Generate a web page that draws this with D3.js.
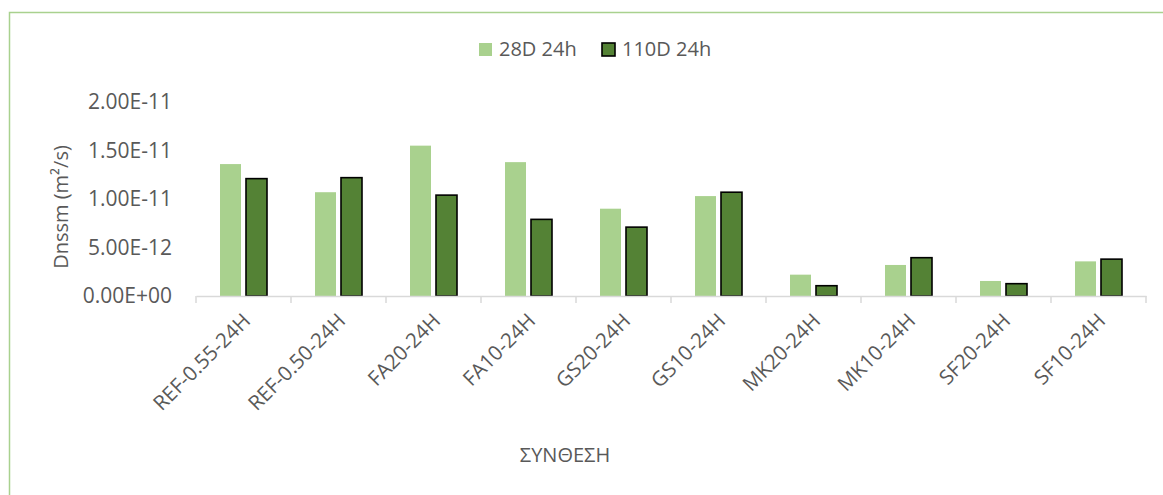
<!DOCTYPE html>
<html>
<head>
<meta charset="utf-8">
<script src="https://cdn.jsdelivr.net/npm/d3@7"></script>
<style>
  html, body { margin: 0; padding: 0; background: #fff; }
  text { font-family: "Open Sans", sans-serif; fill: #595959; }
</style>
</head>
<body>
<div id="chart"></div>
<script>
// categories (ΣΥΝΘΕΣΗ) and the two series
const categories = ['REF-0.55-24H', 'REF-0.50-24H', 'FA20-24H', 'FA10-24H', 'GS20-24H',
                    'GS10-24H', 'MK20-24H', 'MK10-24H', 'SF20-24H', 'SF10-24H'];
const series28 = [1.36e-11, 1.07e-11, 1.55e-11, 1.38e-11, 0.90e-11,
                  1.03e-11, 0.22e-11, 0.32e-11, 0.155e-11, 0.357e-11];
const series110 = [1.21e-11, 1.22e-11, 1.04e-11, 0.79e-11, 0.71e-11,
                   1.07e-11, 0.106e-11, 0.395e-11, 0.127e-11, 0.38e-11];
const seriesNames = ['28D 24h', '110D 24h'];
const yTicks = [0, 5e-12, 1e-11, 1.5e-11, 2e-11];

const width = 1163, height = 495;
const colors = ['#A9D18E', '#548235'];

const svg = d3.select('#chart').append('svg')
    .attr('width', width)
    .attr('height', height);

// chart frame
svg.append('rect')
    .attr('x', 9.5).attr('y', 12.5)
    .attr('width', 1170).attr('height', 500)
    .attr('fill', 'none')
    .attr('stroke', '#A9D18E')
    .attr('stroke-width', 1.5);

const x = d3.scaleBand().domain(categories).range([196, 1146]);
const y = d3.scaleLinear().domain([0, 2e-11]).range([296, 102]);

function sciFormat(v) {
    const [m, e] = d3.format('.2e')(v).split('e');
    const sign = e[0] === '-' ? '-' : '+';
    const digits = e.replace(/[+-]/, '').padStart(2, '0');
    return `${m}E${sign}${digits}`;
}

// y axis labels only (no line, no grid)
const yAxis = svg.append('g')
    .attr('transform', 'translate(172,0)')
    .call(d3.axisLeft(y).tickValues(yTicks).tickFormat(sciFormat).tickSize(0).tickPadding(0));
yAxis.select('.domain').remove();
yAxis.selectAll('text')
    .attr('font-size', '21px')
    .style('font-family', '"Open Sans", sans-serif')
    .attr('fill', '#595959');

// bars
const barW = 21, gap = 5;
const groups = svg.append('g');
[series28, series110].forEach((vals, si) => {
    groups.append('g')
        .selectAll('rect')
        .data(vals)
        .enter()
        .append('rect')
        .attr('x', (d, i) => {
            const c = x(categories[i]) + x.bandwidth() / 2;
            return si === 0 ? c - gap / 2 - barW : c + gap / 2;
        })
        .attr('y', d => y(d))
        .attr('width', barW)
        .attr('height', d => y(0) - y(d))
        .attr('fill', colors[si])
        .attr('stroke', si === 1 ? '#000' : 'none')
        .attr('stroke-width', si === 1 ? 1.6 : 0);
});

// x axis
const xAxis = svg.append('g')
    .attr('transform', 'translate(0,296)')
    .call(d3.axisBottom(x).tickSize(0).tickFormat(''));
xAxis.select('.domain').attr('stroke', '#D9D9D9').attr('stroke-width', 1.5);
xAxis.selectAll('.tick').remove();

const bounds = categories.map(c => x(c)).concat([x.range()[1]]);
svg.append('g')
    .selectAll('line')
    .data(bounds)
    .enter()
    .append('line')
    .attr('x1', d => d).attr('x2', d => d)
    .attr('y1', 296).attr('y2', 303)
    .attr('stroke', '#D9D9D9')
    .attr('stroke-width', 1.5);

svg.append('g')
    .selectAll('text')
    .data(categories)
    .enter()
    .append('text')
    .attr('transform', d => `translate(${x(d) + x.bandwidth() / 2 + 3},${317}) rotate(-45)`)
    .attr('text-anchor', 'end')
    .attr('dy', '0.35em')
    .attr('font-size', '20.5px')
    .text(d => d);

// axis titles
svg.append('text')
    .attr('x', 565).attr('y', 462)
    .attr('text-anchor', 'middle')
    .attr('font-size', '20px')
    .text('ΣΥΝΘΕΣΗ');

svg.append('text')
    .attr('transform', 'translate(68,207) rotate(-90)')
    .attr('text-anchor', 'middle')
    .attr('font-size', '20px')
    .text('Dnssm (m²/s)');

// legend
const legend = svg.append('g');
const legendItems = [
    { name: seriesNames[0], color: colors[0], sx: 479, stroke: 'none' },
    { name: seriesNames[1], color: colors[1], sx: 602, stroke: '#000' }
];
legendItems.forEach(it => {
    legend.append('rect')
        .attr('x', it.sx).attr('y', 43)
        .attr('width', 13).attr('height', 13)
        .attr('fill', it.color)
        .attr('stroke', it.stroke)
        .attr('stroke-width', it.stroke === 'none' ? 0 : 1.6);
    legend.append('text')
        .attr('x', it.sx + 20).attr('y', 56)
        .attr('font-size', '20px')
        .text(it.name);
});
</script>
</body>
</html>
